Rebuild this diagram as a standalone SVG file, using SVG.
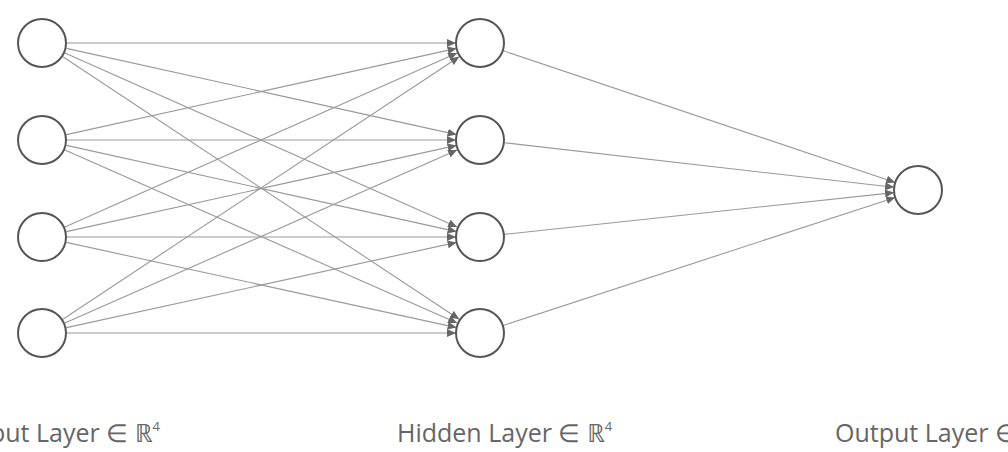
<svg xmlns="http://www.w3.org/2000/svg" width="1008" height="452" viewBox="0 0 1008 452">
<style>
.node{fill:#fff;stroke:#555;stroke-width:2}
.edge{stroke:#999;stroke-width:1.1;fill:none;marker-end:url(#arr)}
.lbl{font-family:"Open Sans","Noto Sans",sans-serif;font-size:25px;fill:#666}
.sup{font-size:13px}
</style>
<defs>
<marker id="arr" markerUnits="userSpaceOnUse" markerWidth="10" markerHeight="10" refX="9" refY="4" orient="auto">
<path d="M0,0 L9,4 L0,8 Z" fill="#666"/>
</marker>
</defs>
<rect width="1008" height="452" fill="#fff"/>
<g id="connectors">
<line class="edge" x1="67" y1="43" x2="456" y2="43"/>
<line class="edge" x1="66.4" y1="48.4" x2="456.6" y2="134.6"/>
<line class="edge" x1="64.9" y1="53.1" x2="457.1" y2="226.9"/>
<line class="edge" x1="62.9" y1="56.8" x2="459.2" y2="319.2"/>
<line class="edge" x1="66.4" y1="134.6" x2="456.6" y2="48.4"/>
<line class="edge" x1="67" y1="140" x2="456" y2="140"/>
<line class="edge" x1="66.4" y1="145.4" x2="456.6" y2="231.6"/>
<line class="edge" x1="64.9" y1="150.1" x2="457.1" y2="322.9"/>
<line class="edge" x1="64.9" y1="226.9" x2="457.1" y2="53.1"/>
<line class="edge" x1="66.4" y1="231.6" x2="456.6" y2="145.4"/>
<line class="edge" x1="67" y1="237" x2="456" y2="237"/>
<line class="edge" x1="66.4" y1="242.4" x2="456.6" y2="327.6"/>
<line class="edge" x1="62.9" y1="319.2" x2="459.2" y2="56.8"/>
<line class="edge" x1="64.9" y1="322.9" x2="457.1" y2="150.1"/>
<line class="edge" x1="66.4" y1="327.6" x2="456.6" y2="242.4"/>
<line class="edge" x1="67" y1="333" x2="456" y2="333"/>
<line class="edge" x1="502.8" y1="50.6" x2="895.2" y2="182.4"/>
<line class="edge" x1="503.9" y1="142.7" x2="894.1" y2="187.3"/>
<line class="edge" x1="503.9" y1="234.4" x2="894.1" y2="192.6"/>
<line class="edge" x1="502.8" y1="325.6" x2="895.2" y2="197.4"/>
</g>
<g id="in1"><circle class="node" cx="42" cy="43" r="24"/></g>
<g id="in2"><circle class="node" cx="42" cy="140" r="24"/></g>
<g id="in3"><circle class="node" cx="42" cy="237" r="24"/></g>
<g id="in4"><circle class="node" cx="42" cy="333" r="24"/></g>
<g id="h1"><circle class="node" cx="480" cy="43" r="24"/></g>
<g id="h2"><circle class="node" cx="480" cy="140" r="24"/></g>
<g id="h3"><circle class="node" cx="480" cy="237" r="24"/></g>
<g id="h4"><circle class="node" cx="480" cy="333" r="24"/></g>
<g id="out"><circle class="node" cx="918" cy="190" r="24"/></g>
<g id="labels">
<text class="lbl" x="160" y="442" text-anchor="end">Input Layer ∈ ℝ<tspan class="sup" dy="-11">4</tspan></text>
<text class="lbl" x="397" y="442">Hidden Layer ∈ ℝ<tspan class="sup" dy="-11">4</tspan></text>
<text class="lbl" x="835" y="442">Output Layer ∈ ℝ<tspan class="sup" dy="-11">1</tspan></text>
</g>
</svg>
